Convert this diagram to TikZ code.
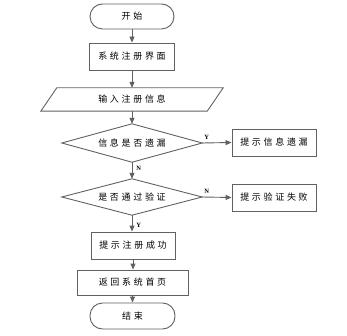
\documentclass[tikz,border=0pt]{standalone}
\usepackage{fontspec}
\newfontfamily\cjk[LetterSpace=30]{Noto Sans CJK SC}
\newfontfamily\lab{Liberation Serif}
\usetikzlibrary{arrows.meta}
\begin{document}
\begin{tikzpicture}[x=1pt,y=-1pt,
  line/.style={draw=black!62,line width=0.9pt},
  arr/.style={line,-{Triangle[length=6pt,width=5pt]}},
  box/.style={draw=black!62,line width=0.9pt,rectangle,inner sep=0pt,font=\cjk\fontsize{9}{10}\selectfont},
  term/.style={box,rounded corners=12.5pt},
  ghost/.style={rectangle,inner sep=0pt,font=\cjk\fontsize{9}{10}\selectfont},
  yn/.style={font=\lab\bfseries\fontsize{6.5}{7}\selectfont,inner sep=0pt}]
\useasboundingbox (0,0) rectangle (347,336);
\node[term,minimum width=84pt,minimum height=25pt] (start) at (132,16.5) {开始};
\node[box,minimum width=85pt,minimum height=27pt] (ui) at (132,56.5) {系统注册界面};
\node[ghost,minimum width=166pt,minimum height=23pt] (in) at (132,99.5) {输入注册信息};
\draw[line] ([xshift=8pt]in.north west) -- ([xshift=8pt]in.north east) -- ([xshift=-8pt]in.south east) -- ([xshift=-8pt]in.south west) -- cycle;
\node[ghost,minimum width=140pt,minimum height=38pt] (d1) at (132,143) {信息是否遗漏};
\draw[line] (d1.north) -- (d1.east) -- (d1.south) -- (d1.west) -- cycle;
\node[box,minimum width=84pt,minimum height=27pt] (miss) at (274,142.5) {提示信息遗漏};
\node[ghost,minimum width=140pt,minimum height=36pt] (d2) at (132,197) {是否通过验证};
\draw[line] (d2.north) -- (d2.east) -- (d2.south) -- (d2.west) -- cycle;
\node[box,minimum width=84pt,minimum height=27pt] (fail) at (274,197.5) {提示验证失败};
\node[box,minimum width=84pt,minimum height=27pt] (ok) at (133,245.5) {提示注册成功};
\node[box,minimum width=111pt,minimum height=25pt] (home) at (132.5,282.5) {返回系统首页};
\node[term,minimum width=85pt,minimum height=26pt] (end) at (132.5,316) {结束};
\draw[arr] (start) -- (ui);
\draw[arr] (ui) -- (in.north);
\draw[arr] (in.south) -- (d1.north);
\draw[arr] (d1.east) -- (miss.west) node[yn,pos=0.15,above=3pt] {Y};
\draw[arr] (d1.south) -- (d2.north) node[yn,pos=0.35,right=4pt] {N};
\draw[arr] (d2.east) -- (fail.west) node[yn,pos=0.15,above=3pt] {N};
\draw[arr] (d2.south) -- (d2.south |- ok.north) node[yn,pos=0.6,right=4pt] {Y};
\draw[arr] (ok) -- (ok |- home.north);
\draw[arr] (home) -- (home |- end.north);
\end{tikzpicture}
\end{document}
